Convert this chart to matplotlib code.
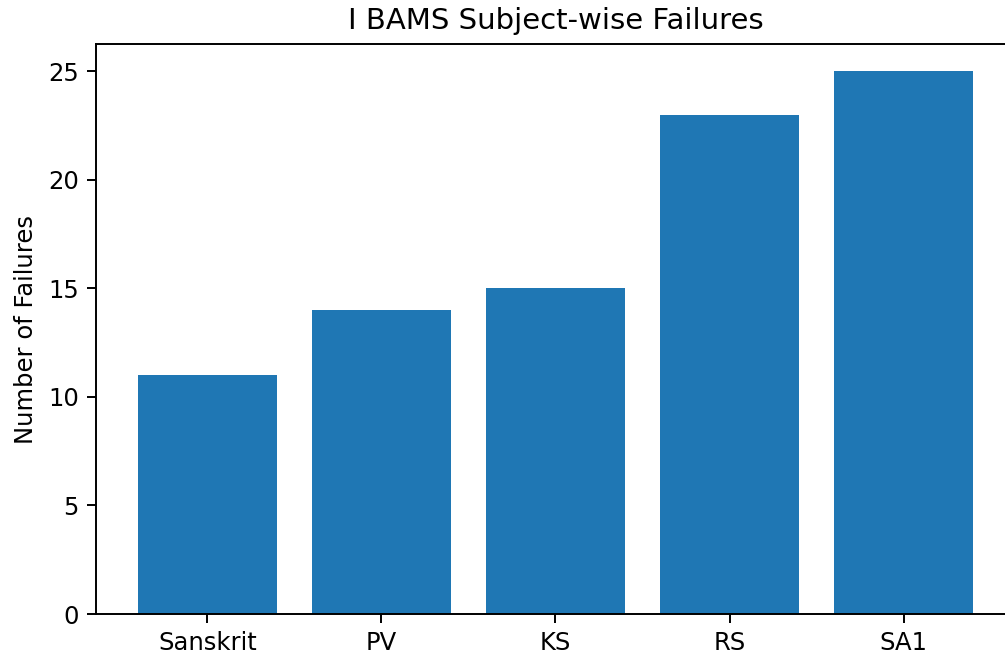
import matplotlib
matplotlib.use("Agg")
import matplotlib.pyplot as plt

subjects = ["Sanskrit", "PV", "KS", "RS", "SA1"]
failures = [11, 14, 15, 23, 25]

plt.rcParams['font.family'] = ['DejaVu Sans']

W, H = 1006, 659
DPI = 175
fig = plt.figure(figsize=(W / DPI, H / DPI), dpi=DPI)
left, right, bottom, top = 96, 1015, 614, 44
ax = fig.add_axes([left / W, (H - bottom) / H, (right - left) / W, (bottom - top) / H])
ax.bar(subjects, failures, color="#1f77b4")
ax.set_title("I BAMS Subject-wise Failures")
ax.set_ylabel("Number of Failures")
fig.savefig("out.png", dpi=DPI)
